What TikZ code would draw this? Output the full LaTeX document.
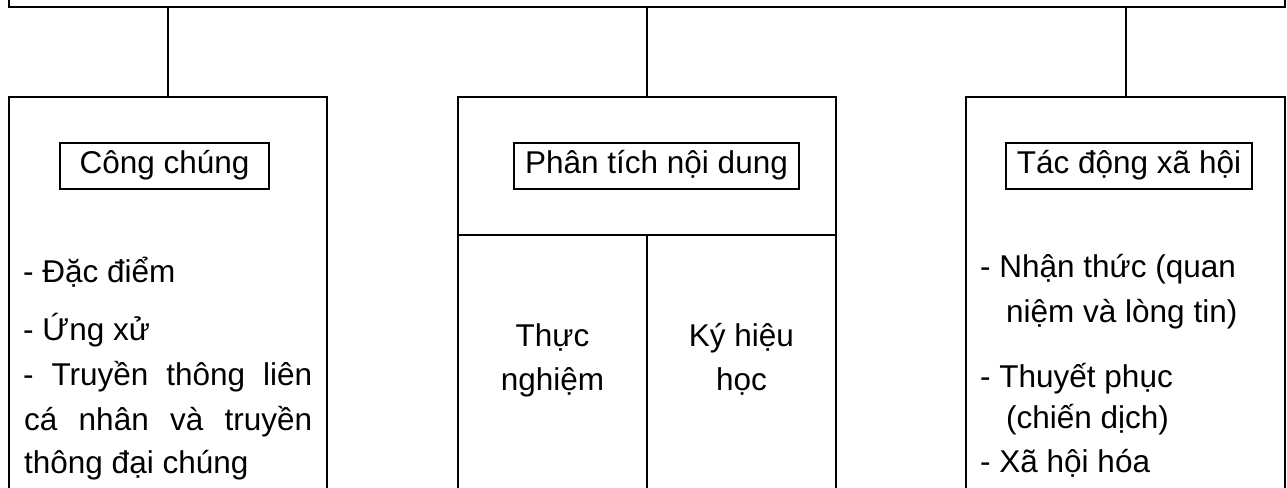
\documentclass[tikz,border=0pt]{standalone}
\usepackage{fontspec}
\setmainfont{Liberation Sans}
\begin{document}
\begin{tikzpicture}[x=1pt,y=-1pt,
  every node/.style={font=\fontsize{31.5}{38}\selectfont},
  box/.style={draw, line width=2.5pt, inner sep=0pt, outer sep=0pt, anchor=north west},
  lbl/.style={draw, line width=2pt, inner sep=0pt, outer sep=0pt, minimum height=46pt, text height=22pt, text depth=7.4pt},
  txt/.style={inner sep=0pt, anchor=base west},
  ctxt/.style={inner sep=0pt, anchor=base},
  link/.style={line width=2pt}
]
\useasboundingbox (0,0) rectangle (1287,487);
\clip (0,0) rectangle (1287,487);

% top box (cut off by the page edge)
\node[box, anchor=south west, minimum width=1276pt, minimum height=40pt] (top) at (9,7) {};

% the three branches
\node[box, minimum width=318pt, minimum height=440pt] (pub) at (9,97) {};
\node[box, minimum width=378pt, minimum height=138pt] (cont) at (458,97) {};
\node[box, minimum width=189pt, minimum height=300pt] (exp) at (458,235) {};
\node[box, minimum width=189pt, minimum height=300pt] (sem) at (647,235) {};
\node[box, minimum width=319pt, minimum height=440pt] (eff) at (966,97) {};

% connectors
\draw[link] (pub.north) -- (pub.north |- top.south);
\draw[link] (cont.north) -- (cont.north |- top.south);
\draw[link] (eff.north) -- (eff.north |- top.south);

% headings
\node[lbl, minimum width=209pt] (publ) at (164.5,166) {Công chúng};
\node[lbl, minimum width=285pt] (contl) at (656.5,166) {Phân tích nội dung};
\node[lbl, minimum width=246pt] (effl) at (1129,166) {Tác động xã hội};

% left list
\node[txt] (p1) at (23,282) {- Đặc điểm};
\node[txt] (p2) at (23,340) {- Ứng xử};
\node[txt] (p3) at (23,385) {\makebox[289pt][s]{- Truyền thông liên}};
\node[txt] (p4) at (24,430) {\makebox[288pt][s]{cá nhân và truyền}};
\node[txt] (p5) at (24,473) {thông đại chúng};

% middle columns
\node[ctxt] (e1) at (552.5,346) {Thực};
\node[ctxt] (e2) at (552.5,390) {nghiệm};
\node[ctxt] (s1) at (741.5,346) {Ký hiệu};
\node[ctxt] (s2) at (741.5,390) {học};

% right list
\node[txt] (r1) at (980,277) {- Nhận thức (quan};
\node[txt] (r2) at (1006,322) {niệm và lòng tin)};
\node[txt] (r3) at (980,387) {- Thuyết phục};
\node[txt] (r4) at (1006,428) {(chiến dịch)};
\node[txt] (r5) at (980,472) {- Xã hội hóa};
\end{tikzpicture}
\end{document}
